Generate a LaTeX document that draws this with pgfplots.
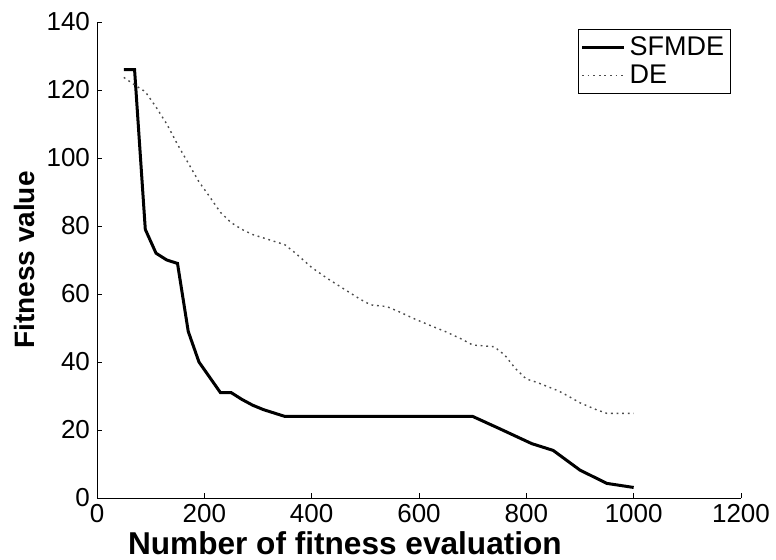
\documentclass[border=0pt]{standalone}
\usepackage{fontspec}
\setmainfont{Liberation Sans}
\usepackage{pgfplots}
\pgfplotsset{compat=1.18}

\begin{document}
\begin{tikzpicture}
\begin{axis}[
    scale only axis,
    width=322pt,
    height=238pt,
    xmin=0, xmax=1200,
    ymin=0, ymax=140,
    xtick={0,200,...,1200},
    ytick={0,20,...,140},
    axis lines*=left,
    tick align=inside,
    major tick length=2.5pt,
    axis line style={line width=0.5pt},
    tick style={line width=0.5pt, black},
    /pgf/number format/assume math mode=true,
    /pgf/number format/1000 sep={},
    ticklabel style={font=\fontsize{13}{15}\selectfont},
    xticklabel style={inner ysep=1pt, yshift=-2pt},
    xlabel={Number of fitness evaluation},
    ylabel={Fitness value},
    xlabel style={at={(rel axis cs:0.385,-0.119)}, anchor=base, inner sep=0pt, font=\fontsize{15.8}{19}\selectfont\bfseries},
    ylabel style={at={(rel axis cs:-0.112,0.5)}, anchor=center, font=\fontsize{14}{17}\selectfont\bfseries},
    legend style={at={(rel axis cs:0.747,0.985)}, anchor=north west, draw=black, line width=0.5pt,
        font=\fontsize{13.5}{16}\selectfont, inner xsep=1pt, inner ysep=1.5pt, row sep=-1pt,
        nodes={inner xsep=2pt, inner ysep=2pt}},
    legend cell align=left,
    legend image code/.code={\draw[#1] (0pt,0pt) -- (21pt,0pt);},
]
\addplot[black, line width=1.5pt] coordinates {
    (50,126) (70,126) (90,79) (110,72) (130,70) (150,69) (170,49) (190,40)
    (210,35.5) (230,31) (250,31) (270,29) (290,27.3) (310,26) (330,25) (350,24)
    (700,24) (750,20.4) (810,16) (850,14) (900,8.2) (950,4.3) (1000,3.1)
};
\addplot[black!70, line width=0.7pt, dash pattern=on 0.9pt off 1.9pt] coordinates {
    (50,123.7) (70,121.5) (90,119.5) (110,115) (130,110) (150,104) (170,98.5)
    (190,93) (210,88.6) (230,84) (250,81) (270,79) (290,77.5) (310,76.5)
    (330,75.5) (350,74.5) (370,72) (400,67.8) (430,64.5) (460,61.5) (490,58.5)
    (510,56.8) (540,56.3) (560,55) (590,52.8) (620,50.8) (650,48.9) (680,46.7)
    (700,45) (740,44.5) (760,42) (780,38) (800,35) (820,34) (860,31.5)
    (880,29.8) (900,28) (930,26) (950,24.9) (1000,24.9)
};
\legend{SFMDE,DE}
\end{axis}
\pgfresetboundingbox
\path ([shift={(-48.5pt,-30.5pt)}]current axis.south west) rectangle ([shift={(17.5pt,11pt)}]current axis.north east);
\end{tikzpicture}
\end{document}
